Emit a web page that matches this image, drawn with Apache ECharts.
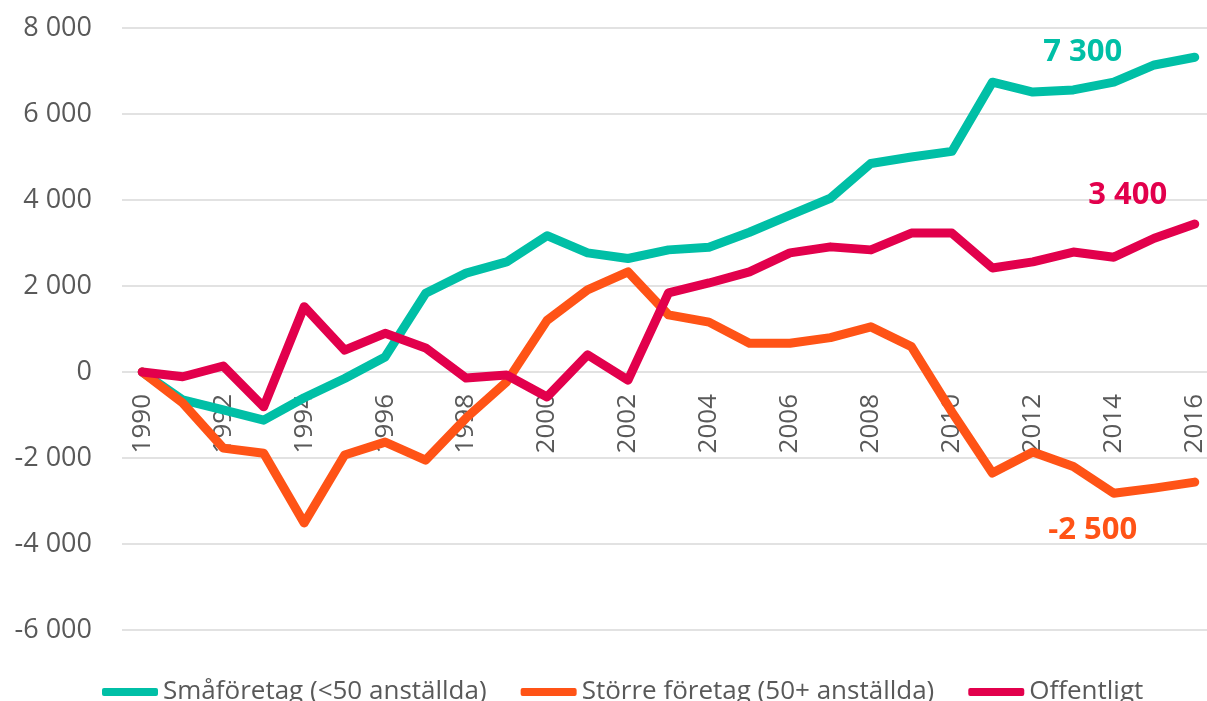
<!DOCTYPE html>
<html>
<head>
<meta charset="utf-8">
<script src="https://cdn.jsdelivr.net/npm/echarts@6/dist/echarts.min.js"></script>
<style>
  html, body { margin: 0; padding: 0; background: #fff; }
  #main { width: 1207px; height: 701px; }
</style>
</head>
<body>
<div id="main"></div>
<script>
// data
var years = ['1990', '1991', '1992', '1993', '1994', '1995', '1996', '1997', '1998', '1999',
  '2000', '2001', '2002', '2003', '2004', '2005', '2006', '2007', '2008', '2009',
  '2010', '2011', '2012', '2013', '2014', '2015', '2016'];
var smaforetag = [0, -650, -880, -1120, -600, -150, 350, 1830, 2300, 2560,
  3170, 2770, 2640, 2840, 2900, 3250, 3650, 4040, 4850, 5000,
  5130, 6740, 6510, 6560, 6740, 7140, 7320];
var storre = [0, -720, -1770, -1890, -3510, -1930, -1630, -2050, -1070, -230,
  1200, 1910, 2330, 1330, 1160, 670, 670, 800, 1050, 590,
  -930, -2350, -1860, -2200, -2820, -2700, -2560];
var offentligt = [0, -110, 140, -810, 1520, 510, 900, 560, -140, -70,
  -580, 400, -190, 1840, 2070, 2330, 2770, 2910, 2840, 3230,
  3230, 2420, 2560, 2790, 2670, 3110, 3440];
var seriesNames = ['Småföretag (<50 anställda)', 'Större företag (50+ anställda)', 'Offentligt'];
var endTexts = ['7 300', '-2 500', '3 400'];
var colors = ['#00BFA6', '#FF5316', '#E2004C'];
var yMin = -6000, yMax = 8000;

var myChart = echarts.init(document.getElementById('main'));

function fmt(v) {
  var s = String(Math.abs(v)).replace(/\B(?=(\d{3})+(?!\d))/g, ' ');
  return (v < 0 ? '-' : '') + s;
}

var FONT = '"Open Sans", "Noto Sans", sans-serif';
var last = years.length - 1;
var gridTop = 28, gridBottom = 71;
var plotH = 701 - gridTop - gridBottom;
// move the category axis up to the zero line
var zeroOffset = -plotH * (0 - yMin) / (yMax - yMin);

function makeSeries(idx, data, offset) {
  return {
    name: seriesNames[idx],
    type: 'line',
    zlevel: 1,
    data: data,
    symbol: 'none',
    lineStyle: { width: 9, color: colors[idx], cap: 'round', join: 'round' },
    itemStyle: { color: colors[idx] },
    markPoint: {
      silent: true,
      symbol: 'circle',
      symbolSize: 0,
      data: [{ coord: [years[last], data[last]] }],
      label: {
        show: true,
        position: 'inside',
        offset: offset,
        formatter: endTexts[idx],
        color: colors[idx],
        fontFamily: FONT,
        fontWeight: 'bold',
        fontSize: 31
      }
    }
  };
}

var option = {
  animation: false,
  color: colors,
  grid: { left: 122, right: -8, top: gridTop, bottom: gridBottom, outerBoundsMode: 'none', containLabel: false },
  legend: {
    left: 97,
    top: 674,
    itemWidth: 56,
    itemHeight: 8,
    itemGap: 34,
    icon: 'roundRect',
    textStyle: { color: '#595959', fontSize: 26, fontFamily: FONT },
    data: seriesNames
  },
  xAxis: {
    type: 'category',
    data: years,
    boundaryGap: true,
    offset: zeroOffset,
    axisLine: { show: false, onZero: false },
    axisTick: { show: false },
    axisLabel: {
      interval: 1,
      rotate: 90,
      margin: 22,
      color: '#595959',
      fontSize: 26,
      fontFamily: FONT
    }
  },
  yAxis: {
    type: 'value',
    min: yMin,
    max: yMax,
    interval: 2000,
    axisLine: { show: false },
    axisTick: { show: false },
    splitLine: { lineStyle: { color: '#D9D9D9', width: 1.5 } },
    axisLabel: {
      margin: 30,
      color: '#595959',
      fontSize: 27,
      fontFamily: FONT,
      formatter: fmt
    }
  },
  series: [
    makeSeries(0, smaforetag, [-112, -5]),
    makeSeries(1, storre, [-102, 48]),
    makeSeries(2, offentligt, [-67, -29])
  ]
};

myChart.setOption(option);
</script>
</body>
</html>
